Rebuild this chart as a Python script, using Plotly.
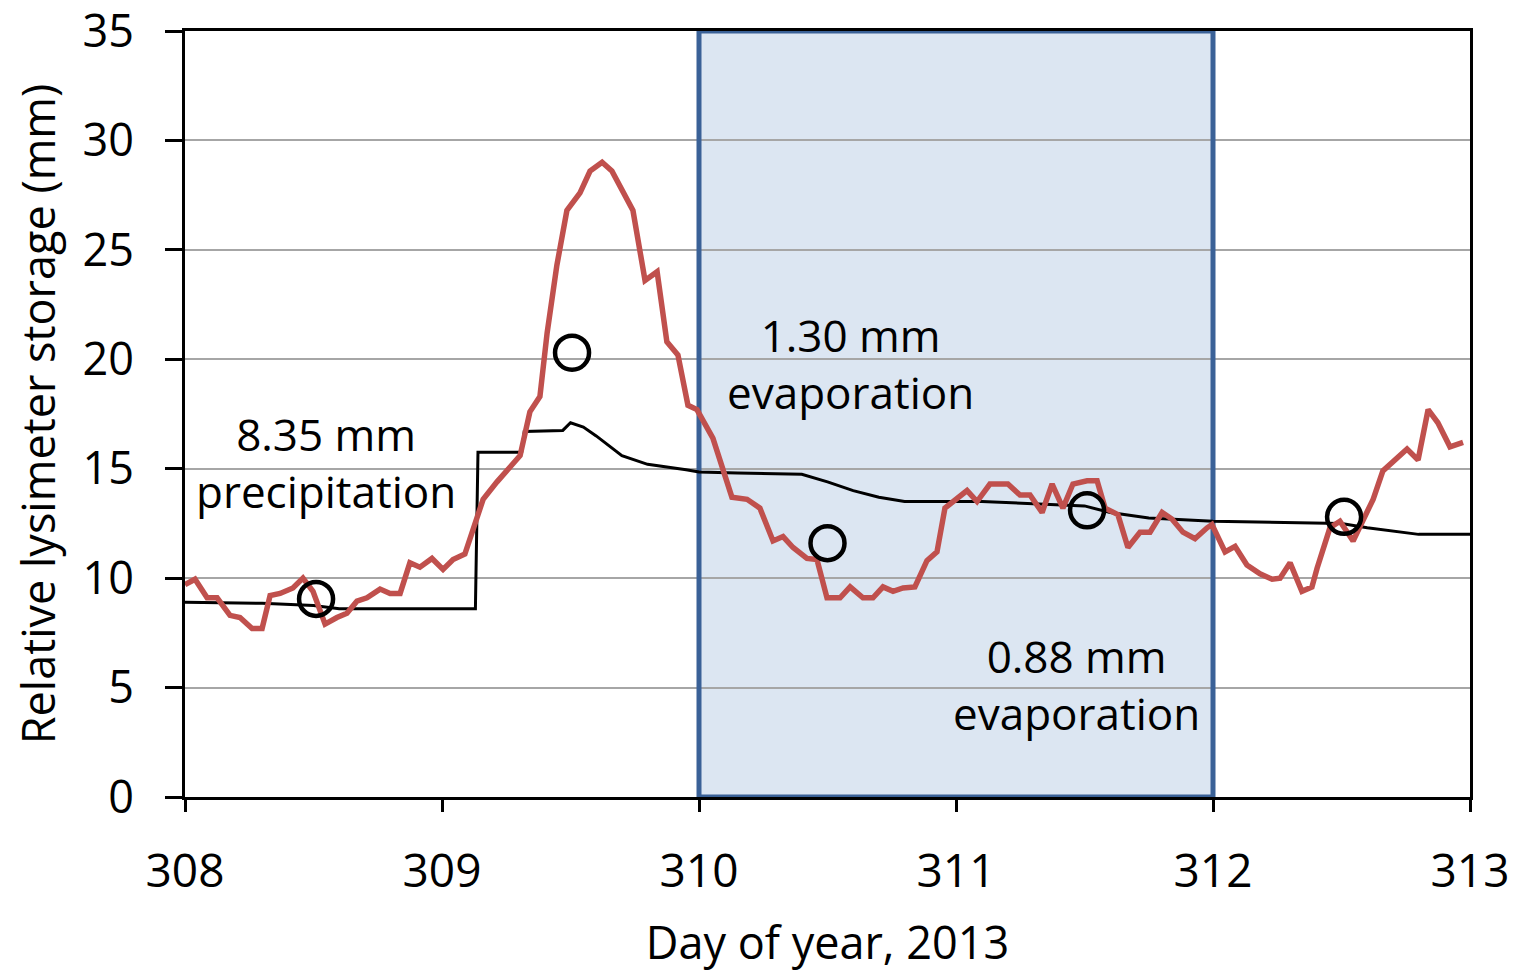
import plotly.graph_objects as go

# Red line: measured lysimeter storage (day of year, mm)
red_day = [308.000, 308.039, 308.086, 308.125, 308.175, 308.214, 308.261, 308.300, 308.331, 308.370,
           308.420, 308.459, 308.498, 308.545, 308.591, 308.630, 308.669, 308.708, 308.759, 308.798,
           308.837, 308.875, 308.914, 308.961, 309.004, 309.043, 309.089, 309.128, 309.160, 309.214,
           309.265, 309.304, 309.342, 309.381, 309.409, 309.447, 309.486, 309.537, 309.576, 309.623,
           309.661, 309.700, 309.743, 309.790, 309.837, 309.875, 309.918, 309.957, 309.992, 310.054,
           310.093, 310.128, 310.187, 310.237, 310.288, 310.327, 310.366, 310.420, 310.459, 310.498,
           310.549, 310.588, 310.638, 310.677, 310.716, 310.755, 310.794, 310.840, 310.887, 310.926,
           310.957, 311.004, 311.043, 311.082, 311.132, 311.202, 311.249, 311.288, 311.335, 311.374,
           311.416, 311.455, 311.510, 311.549, 311.580, 311.630, 311.669, 311.716, 311.755, 311.802,
           311.840, 311.883, 311.930, 311.977, 311.996, 312.047, 312.086, 312.132, 312.183, 312.230,
           312.261, 312.300, 312.346, 312.385, 312.405, 312.455, 312.494, 312.545, 312.584, 312.623,
           312.661, 312.700, 312.755, 312.798, 312.837, 312.875, 312.922, 312.973]
red_mm = [9.7, 9.95, 9.1, 9.1, 8.3, 8.2, 7.7, 7.7, 9.2, 9.3,
          9.55, 10.0, 9.4, 7.9, 8.2, 8.4, 8.95, 9.1, 9.5, 9.3,
          9.3, 10.7, 10.5, 10.9, 10.4, 10.85, 11.1, 12.45, 13.6, 14.4,
          15.1, 15.6, 17.6, 18.3, 21.2, 24.3, 26.8, 27.6, 28.6, 29.0,
          28.6, 27.8, 26.8, 23.6, 24.0, 20.8, 20.2, 17.9, 17.7, 16.4,
          15.0, 13.7, 13.6, 13.2, 11.7, 11.9, 11.4, 10.9, 10.85, 9.1,
          9.1, 9.6, 9.1, 9.1, 9.6, 9.4, 9.55, 9.6, 10.8, 11.2,
          13.2, 13.6, 14.0, 13.5, 14.3, 14.3, 13.8, 13.8, 13.0, 14.3,
          13.2, 14.3, 14.45, 14.45, 13.2, 12.9, 11.4, 12.1, 12.1, 13.0,
          12.7, 12.1, 11.8, 12.3, 12.45, 11.2, 11.45, 10.6, 10.2, 9.95,
          10.0, 10.7, 9.4, 9.6, 10.45, 12.3, 12.6, 11.7, 12.6, 13.6,
          14.9, 15.3, 15.9, 15.4, 17.7, 17.1, 16.0, 16.2]

# Black line: modelled storage
black_day = [308.0, 308.3, 308.5, 308.6, 309.13, 309.14, 309.31, 309.32, 309.47, 309.5,
             309.55, 309.6, 309.7, 309.8, 309.95, 310.0, 310.15, 310.4, 310.5, 310.6,
             310.7, 310.8, 311.1, 311.3, 311.5, 311.6, 311.75, 312.0, 312.5, 312.6,
             312.8, 313.0]
black_mm = [8.9, 8.85, 8.75, 8.6, 8.6, 15.75, 15.75, 16.7, 16.75, 17.1,
            16.9, 16.5, 15.6, 15.2, 14.95, 14.85, 14.8, 14.75, 14.4, 14.0,
            13.7, 13.5, 13.5, 13.4, 13.3, 13.0, 12.75, 12.6, 12.5, 12.3,
            12.0, 12.0]

# Open circles: daily values
circle_day = [308.51, 309.506, 310.5, 311.51, 312.51]
circle_mm = [9.05, 20.3, 11.6, 13.1, 12.8]

# Shaded evaporation period
shade_start, shade_end = 310, 312

# Annotations
ann_text = ["8.35 mm<br>precipitation", "1.30 mm<br>evaporation", "0.88 mm<br>evaporation"]
ann_x = [308.55, 310.59, 311.47]
ann_y = [15.3, 19.8, 5.15]

x_ticks = [308, 309, 310, 311, 312, 313]
y_ticks = [0, 5, 10, 15, 20, 25, 30, 35]

FONT = "Open Sans"

fig = go.Figure()
fig.add_trace(go.Scatter(x=black_day, y=black_mm, mode="lines",
                         line=dict(color="black", width=3), showlegend=False))
fig.add_trace(go.Scatter(x=red_day, y=red_mm, mode="lines",
                         line=dict(color="#C0504D", width=5.5), showlegend=False))
fig.add_trace(go.Scatter(x=circle_day, y=circle_mm, mode="markers",
                         marker=dict(symbol="circle-open", size=34, color="black",
                                     line=dict(width=4.5, color="black")),
                         showlegend=False))

fig.add_shape(type="rect", x0=shade_start, x1=shade_end, y0=0, y1=35,
              fillcolor="#DCE6F2", line=dict(width=0), layer="below")
fig.add_shape(type="rect", x0=shade_start, x1=shade_end, y0=0, y1=35,
              fillcolor="rgba(0,0,0,0)", line=dict(color="#3A6197", width=5), layer="between")

for t, x, y in zip(ann_text, ann_x, ann_y):
    fig.add_annotation(x=x, y=y, text=t, showarrow=False, xanchor="center", yanchor="middle",
                       font=dict(family=FONT, size=44, color="black"), align="center")

fig.update_layout(
    width=1520, height=972,
    margin=dict(l=185, r=50, t=31, b=175, autoexpand=False),
    paper_bgcolor="white", plot_bgcolor="white",
    font=dict(family=FONT, size=45, color="black"),
)
fig.update_xaxes(range=[308, 313], tickvals=x_ticks, showgrid=False, automargin=False,
                 showline=True, linecolor="black", linewidth=3, mirror=True,
                 ticks="outside", ticklen=12, tickwidth=3, tickcolor="black",
                 ticklabelstandoff=20, ticklabeloverflow="allow", zeroline=False,
                 tickfont=dict(size=46),
                 title=dict(text="Day of year, 2013", font=dict(size=45), standoff=30))
fig.update_yaxes(range=[0, 35], tickvals=y_ticks, showgrid=True, gridcolor="#A6A6A6", gridwidth=2,
                 automargin=False,
                 showline=True, linecolor="black", linewidth=3, mirror=True,
                 ticks="outside", ticklen=17, tickwidth=3, tickcolor="black",
                 ticklabelstandoff=22, ticklabeloverflow="allow", zeroline=False,
                 tickfont=dict(size=45),
                 title=dict(text="Relative lysimeter storage (mm)", font=dict(size=45), standoff=13))

fig.write_html("out.html")
